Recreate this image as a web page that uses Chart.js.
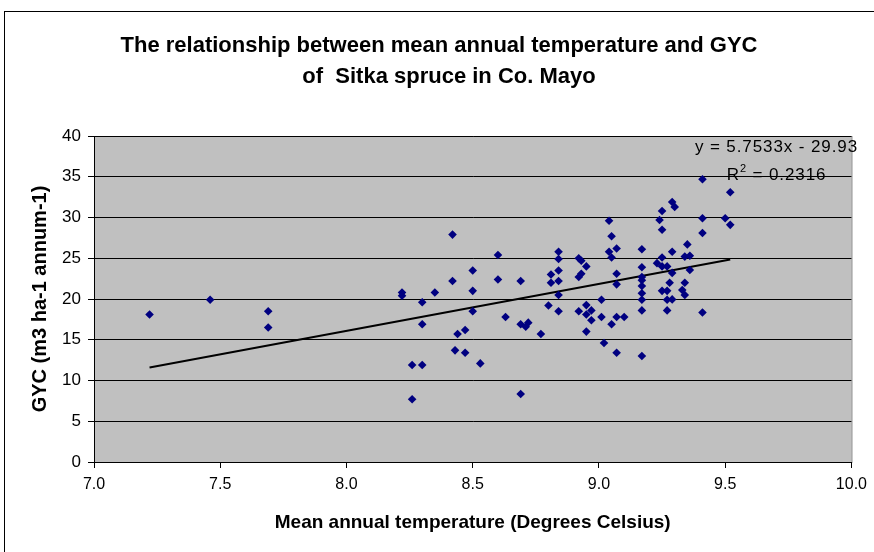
<!DOCTYPE html>
<html>
<head>
<meta charset="utf-8">
<script src="https://cdn.jsdelivr.net/npm/chart.js@4/dist/chart.umd.min.js"></script>
<style>
  html, body { margin: 0; padding: 0; background: #fff; }
  #wrap { width: 874px; height: 552px; position: relative; }
</style>
</head>
<body>
<div id="wrap"><canvas id="chart"></canvas></div>
<script>
'use strict';

// mean annual temperature (deg C)
var temperature = [
  7.22, 7.46, 7.69, 7.69,
  8.22, 8.22, 8.26, 8.26, 8.30, 8.30, 8.30, 8.35, 8.42, 8.42, 8.43, 8.44,
  8.47, 8.47, 8.50, 8.50, 8.50, 8.53, 8.60, 8.60, 8.63, 8.69, 8.69, 8.69,
  8.71, 8.72, 8.77, 8.80, 8.81, 8.81, 8.84, 8.84, 8.84, 8.84, 8.84, 8.84,
  8.92, 8.93, 8.95, 8.93, 8.92, 8.92, 8.95, 8.95, 8.97, 8.97, 8.95,
  9.01, 9.01, 9.02, 9.04, 9.05, 9.04, 9.05, 9.07, 9.07, 9.07, 9.05, 9.07, 9.07,
  9.10, 9.17, 9.17, 9.17, 9.17, 9.17, 9.17, 9.17, 9.17, 9.17,
  9.24, 9.25, 9.29, 9.30, 9.25, 9.23, 9.25, 9.25, 9.27, 9.29, 9.29, 9.28,
  9.25, 9.27, 9.29, 9.27, 9.27,
  9.35, 9.34, 9.36, 9.36, 9.34, 9.33, 9.34,
  9.41, 9.41, 9.41, 9.41, 9.50, 9.52, 9.52
];

// GYC (m3 ha-1 annum-1), same order
var gyc = [
  18.1, 19.9, 18.5, 16.5,
  20.8, 20.4, 11.9, 7.7, 19.6, 16.9, 11.9, 20.8, 27.9, 22.2, 13.7, 15.7,
  16.2, 13.4, 23.5, 21.0, 18.5, 12.1, 25.4, 22.4, 17.8, 22.2, 16.9, 8.35,
  16.6, 17.1, 15.7, 19.2, 23.0, 22.0, 25.8, 24.9, 23.5, 22.2, 20.5, 18.5,
  25.0, 24.7, 24.0, 23.1, 22.7, 18.5, 19.25, 18.1, 18.6, 17.4, 16.0,
  19.9, 17.8, 14.6, 29.6, 27.7, 25.8, 25.1, 26.2, 23.1, 21.8, 16.9, 17.8, 13.4,
  17.8, 26.1, 23.9, 22.7, 22.3, 21.6, 20.7, 19.9, 18.6, 13.0,
  29.7, 30.8, 31.9, 31.3, 28.5, 24.4, 25.1, 24.0, 24.0, 23.2, 25.8, 22.0,
  21.0, 21.0, 19.95, 19.9, 18.6,
  26.7, 25.2, 25.3, 23.55, 22.0, 21.1, 20.5,
  34.7, 29.9, 28.1, 18.35, 29.9, 33.1, 29.1
];

// linear trend line ends as drawn
var trendX = [7.22, 9.52];
var trendY = [11.6, 24.85];
var trendLabel = ['y = 5.7533x - 29.93', 'R', '2', ' = 0.2316'];

var titleLines = ['The relationship between mean annual temperature and GYC', 'of  Sitka spruce in Co. Mayo'];
var xTitle = 'Mean annual temperature (Degrees Celsius)';
var yTitle = 'GYC (m3 ha-1 annum-1)';

var FONT = '"Liberation Sans", Arial, sans-serif';

function pairs(xs, ys) {
  var out = [];
  for (var i = 0; i < xs.length; i++) out.push({x: xs[i], y: ys[i]});
  return out;
}

var frame = {
  id: 'frame',
  beforeDraw: function(chart) {
    var ctx = chart.ctx, a = chart.chartArea;
    ctx.save();
    ctx.fillStyle = '#fff';
    ctx.fillRect(0, 0, chart.width, chart.height);
    ctx.strokeStyle = '#000';
    ctx.lineWidth = 1;
    ctx.strokeRect(4.5, 11.5, chart.width + 10, chart.height + 10);
    ctx.fillStyle = '#c0c0c0';
    ctx.fillRect(a.left, a.top, a.right - a.left, a.bottom - a.top);
    ctx.strokeStyle = '#808080';
    ctx.strokeRect(a.left + 0.5, a.top + 0.5, a.right - a.left, a.bottom - a.top);
    // title
    ctx.fillStyle = '#000';
    ctx.font = 'bold 22px ' + FONT;
    ctx.textAlign = 'center';
    ctx.textBaseline = 'middle';
    ctx.fillText(titleLines[0], 439, 46);
    ctx.fillText(titleLines[1], 449, 77);
    ctx.restore();
  },
  afterDatasetsDraw: function(chart) {
    var ctx = chart.ctx;
    var xs = chart.scales.x, ys = chart.scales.y;
    ctx.save();
    ctx.fillStyle = '#000';
    ctx.textBaseline = 'middle';
    ctx.textAlign = 'left';
    ctx.font = '17px ' + FONT;
    ctx.letterSpacing = '0.9px';
    var x0 = xs.getPixelForValue(9.38);
    ctx.fillText(trendLabel[0], x0, ys.getPixelForValue(38.6));
    var rx = xs.getPixelForValue(9.506), ry = ys.getPixelForValue(35.2);
    ctx.fillText(trendLabel[1], rx, ry);
    var w = ctx.measureText(trendLabel[1]).width;
    ctx.font = '11px ' + FONT;
    ctx.fillText(trendLabel[2], rx + w, ry - 6);
    var w2 = ctx.measureText(trendLabel[2]).width;
    ctx.font = '17px ' + FONT;
    ctx.fillText(trendLabel[3], rx + w + w2, ry);
    ctx.restore();
  }
};

new Chart(document.getElementById('chart'), {
  type: 'scatter',
  data: {
    datasets: [{
      label: 'GYC',
      data: pairs(temperature, gyc),
      pointStyle: 'rectRot',
      pointRadius: 4.3,
      pointHoverRadius: 4.3,
      backgroundColor: '#000080',
      borderColor: '#000080',
      borderWidth: 0
    }, {
      type: 'line',
      label: 'Linear',
      data: pairs(trendX, trendY),
      borderColor: '#000',
      borderWidth: 2,
      pointRadius: 0,
      fill: false
    }]
  },
  plugins: [frame],
  options: {
    responsive: true,
    maintainAspectRatio: false,
    animation: false,
    layout: {padding: {top: 136, right: 22, left: 0, bottom: 0}},
    plugins: {legend: {display: false}, tooltip: {enabled: false}, title: {display: false}},
    scales: {
      x: {
        type: 'linear',
        min: 7, max: 10,
        afterFit: function(s) { s.height = 90; },
        ticks: {
          stepSize: 0.5,
          padding: 7,
          color: '#000',
          font: {family: FONT, size: 16},
          callback: function(v) { return v.toFixed(1); }
        },
        grid: {drawOnChartArea: false, drawTicks: true, tickLength: 6, color: '#000'},
        border: {display: true, color: '#000', width: 1},
        title: {
          display: true, text: xTitle, color: '#000',
          font: {family: FONT, size: 19, weight: 'bold'},
          padding: {top: 0, bottom: 18}
        }
      },
      y: {
        min: 0, max: 40,
        afterFit: function(s) { s.width = 94; },
        ticks: {
          stepSize: 5,
          padding: 7,
          color: '#000',
          font: {family: FONT, size: 17}
        },
        grid: {color: '#000', lineWidth: 1, drawTicks: true, tickLength: 6},
        border: {display: true, color: '#000', width: 1},
        title: {
          display: true, text: yTitle, color: '#000',
          font: {family: FONT, size: 20, weight: 'bold'},
          padding: {top: 28, bottom: 0}
        }
      }
    }
  }
});
</script>
</body>
</html>
